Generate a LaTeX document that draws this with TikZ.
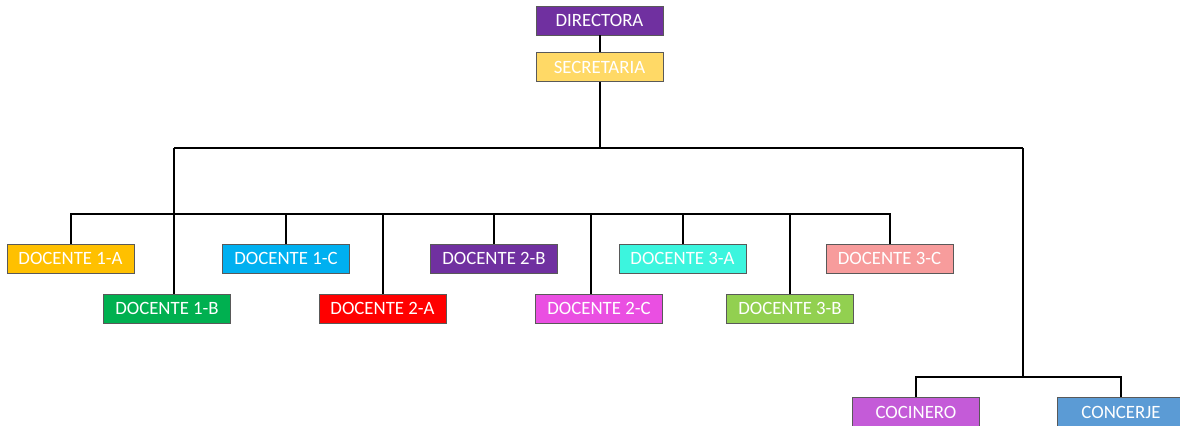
\documentclass[tikz,border=0pt]{standalone}
\usepackage{fontspec}
\setmainfont{Carlito}
\usetikzlibrary{positioning}

\definecolor{morado}{HTML}{7030A0}
\definecolor{amarillo}{HTML}{FFD966}
\definecolor{naranja}{HTML}{FFC000}
\definecolor{verde}{HTML}{00B050}
\definecolor{celeste}{HTML}{00B0F0}
\definecolor{rojo}{HTML}{FF0000}
\definecolor{rosado}{HTML}{EA4FE2}
\definecolor{turquesa}{HTML}{3CF5DE}
\definecolor{verdeclaro}{HTML}{92D050}
\definecolor{salmon}{HTML}{F79C9C}
\definecolor{lila}{HTML}{C45BD8}
\definecolor{azul}{HTML}{5B9BD5}

\begin{document}
\begin{tikzpicture}[x=0.5pt, y=-0.5pt, node distance=8.5pt]
    \tikzstyle{cargo} = [draw=black!65, line width=0.4pt, minimum width=63.5pt,
	minimum height=14.5pt, inner sep=0pt, text=white,
	font=\fontsize{9.4pt}{11pt}\selectfont]
    \tikzstyle{linea} = [line width=1pt]

    \useasboundingbox (0,0) rectangle (1180,425);
    \fill[white] (0,0) rectangle (1180,425);
    \clip (0,0) rectangle (1180,425);

		% direccion
		\node[cargo, fill=morado] (dir) at (599.5,20.5) {DIRECTORA};
		\node[cargo, fill=amarillo, below=of dir] (sec) {SECRETARIA};

		% docentes
		\node[cargo, fill=naranja] (d1a) at (70.5,258.5) {DOCENTE 1-A};
		\node[cargo, fill=verde] (d1b) at (167,308.5) {DOCENTE 1-B};
		\node[cargo, fill=celeste] (d1c) at (286,258.5) {DOCENTE 1-C};
		\node[cargo, fill=rojo] (d2a) at (382.5,308.5) {DOCENTE 2-A};
		\node[cargo, fill=morado] (d2b) at (494,258.5) {DOCENTE 2-B};
		\node[cargo, fill=rosado] (d2c) at (599,308.5) {DOCENTE 2-C};
		\node[cargo, fill=turquesa] (d3a) at (682.5,258.5) {DOCENTE 3-A};
		\node[cargo, fill=verdeclaro] (d3b) at (790,308.5) {DOCENTE 3-B};
		\node[cargo, fill=salmon] (d3c) at (889.5,258.5) {DOCENTE 3-C};

		% servicio
		\node[cargo, fill=lila] (coc) at (916,412) {COCINERO};
		\node[cargo, fill=azul] (con) at (1121,412) {CONCERJE};

		% puntos de union
		\coordinate (izq) at (174,148);
		\coordinate (der) at (1023,148);
		\coordinate (doc) at (70,214);
		\coordinate (b2c) at (591,214);
		\coordinate (ser) at (1023,377);

		\draw[linea] (dir) -- (sec);
		\draw[linea] (sec.south) -- (sec.south |- izq);
		\draw[linea] (izq) -- (der);
		\draw[linea] (izq) -- (izq |- d1b.north);
		\draw[linea] (der) -- (ser);

		\draw[linea] (d1a.north) -- (d1a.north |- doc) -- (d3c.north |- doc) -- (d3c.north);
		\draw[linea] (d1c.north) -- (d1c.north |- doc);
		\draw[linea] (d2a.north) -- (d2a.north |- doc);
		\draw[linea] (d2b.north) -- (d2b.north |- doc);
		\draw[linea] (b2c) -- (b2c |- d2c.north);
		\draw[linea] (d3a.north) -- (d3a.north |- doc);
		\draw[linea] (d3b.north) -- (d3b.north |- doc);

		\draw[linea] (coc.north) |- (ser) -| (con.north);

\end{tikzpicture}
\end{document}
